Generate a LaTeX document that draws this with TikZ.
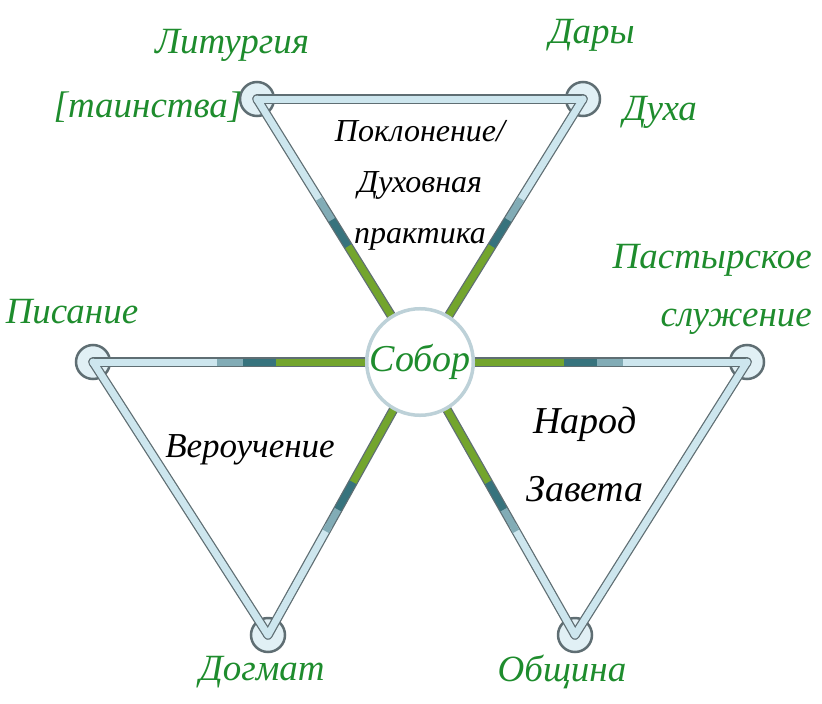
\documentclass[tikz,border=0pt]{standalone}
\usepackage{fontspec}
\setmainfont{Liberation Serif}
\usetikzlibrary{calc}
\definecolor{leafgreen}{RGB}{30,140,45}
\definecolor{palesky}{RGB}{205,230,238}
\definecolor{deepteal}{RGB}{55,115,125}
\definecolor{olive}{RGB}{115,165,45}
\definecolor{rimgray}{RGB}{95,110,115}

\begin{document}
\begin{tikzpicture}[x=1pt,y=-1pt,
  tag/.style={text=leafgreen,font=\itshape\fontsize{37}{40}\selectfont,align=center,inner sep=0pt},
  caption/.style={font=\itshape\fontsize{32}{51}\selectfont,align=center,inner sep=0pt},
  corner/.style={circle,minimum size=34pt,inner sep=0pt,draw=rimgray,line width=2.5pt,fill=palesky!60},
  hub/.style={circle,minimum size=92pt,inner sep=0pt,draw=palesky!80!gray,line width=3.5pt,fill=white,
    text=leafgreen,font=\itshape\fontsize{38}{40}\selectfont},
  rim/.style={line width=9.5pt,rimgray,line cap=round,line join=round},
  band/.style={line width=7pt,palesky,line cap=round,line join=round}]
 \useasboundingbox (0,0) rectangle (822,704);
 \coordinate (c) at (420,362);
 % corners of the three triangles
 \node[corner] (lit) at (257,99) {};
 \node[corner] (dar) at (583,99) {};
 \node[corner] (pis) at (93,362) {};
 \node[corner] (dog) at (268,635) {};
 \node[corner] (pas) at (747,362) {};
 \node[corner] (obs) at (575,635) {};
 % sides
 \foreach \a/\b in {lit/dar,pis/dog,pas/obs}
   \draw[rim] (\a.center) -- (\b.center);
 \foreach \a in {lit,dar,pis,dog,pas,obs}
   \draw[rim] (\a.center) -- (c);
 \foreach \a/\b in {lit/dar,pis/dog,pas/obs}
   \draw[band] (\a.center) -- (\b.center);
 \foreach \a in {lit,dar,pis,dog,pas,obs}{
   \draw[band] (\a.center) -- ($(\a.center)!.4!(c)$);
   \draw[band,line cap=butt,deepteal!50!palesky] ($(\a.center)!.38!(c)$) -- ($(\a.center)!.46!(c)$);
   \draw[band,line cap=butt,deepteal] ($(\a.center)!.46!(c)$) -- ($(\a.center)!.56!(c)$);
   \draw[band,line cap=butt,olive] ($(\a.center)!.56!(c)$) -- (c);
 }
 \node[hub] (sob) at (c) {Собор};
 % labels
 \node[tag] (tlit) at (232,45) {Литургия};
 \node[tag] (ttai) at (148,107) {[таинства]};
 \node[tag] (tdar) at (592,35) {Дары};
 \node[tag] (tduh) at (660,112) {Духа};
 \node[tag,anchor=east] (tpas) at (812,260) {Пастырское};
 \node[tag,anchor=east] (tslu) at (812,322) {служение};
 \node[tag] (tpis) at (72,312) {Писание};
 \node[tag] (tdog) at (262,672) {Догмат};
 \node[tag] (tobs) at (562,672) {Община};
 \node[caption] (tpok) at (420,185) {Поклонение/\\Духовная\\практика};
 \node[caption,font=\itshape\fontsize{35}{38}\selectfont] (tver) at (250,450) {Вероучение};
 \node[caption,font=\itshape\fontsize{38}{68}\selectfont] (tnar) at (585,455) {Народ\\Завета};
\end{tikzpicture}
\end{document}
